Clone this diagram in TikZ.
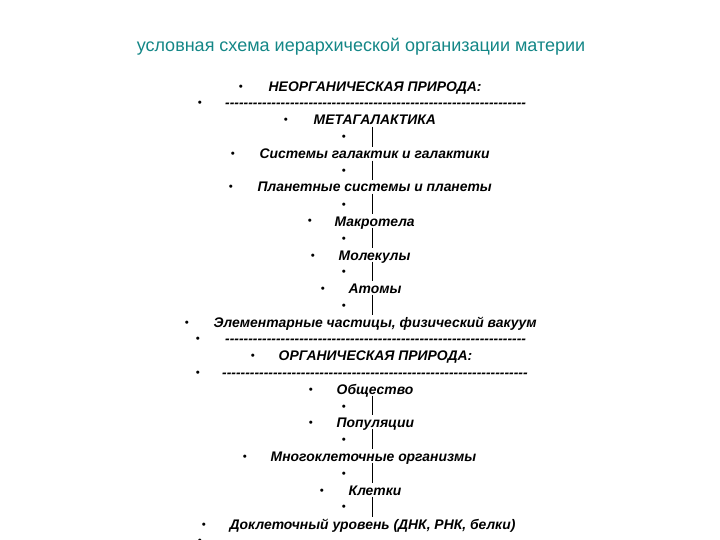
\documentclass[tikz,border=0pt]{standalone}
\usepackage{fontspec}
\setmainfont{Liberation Sans}
\newfontfamily\itemfont{Liberation Sans}
\definecolor{titleteal}{RGB}{20,135,135}
\newcommand\dashrow[1]{\foreach \i in {1,...,#1}{-\kern0pt}}
\begin{document}
\begin{tikzpicture}[x=1pt,y=-1pt,
  itm/.style={anchor=base west,inner sep=1.5pt,text height=10pt,text depth=0pt,
    font=\itemfont\fontsize{13.9}{15}\selectfont\bfseries\itshape},
  bul/.style={anchor=base,inner sep=0pt,font=\itemfont\fontsize{11.5}{12}\selectfont},
  dsh/.style={anchor=base west,inner sep=0pt,
    font=\itemfont\fontsize{13.9}{15}\selectfont\bfseries\itshape},
  conn/.style={draw=black,line width=0.8pt}]
\useasboundingbox[fill=white] (0,0) rectangle (720,540);
\node[anchor=center,font=\fontsize{18}{21}\selectfont,text=titleteal,inner sep=0pt] (title) at (361,47) {условная схема иерархической организации материи};
\coordinate (vx) at (372,0);
% rows
\node[bul] (b1) at (241,91) {•};
\node[itm] (t1) at (267,92) {НЕОРГАНИЧЕСКАЯ ПРИРОДА:};
\node[bul] (b2) at (200,107) {•};
\node[dsh] (d1) at (225,108) {\dashrow{65}};
\node[bul] (b3) at (286,124) {•};
\node[itm] (t3) at (312,125) {МЕТАГАЛАКТИКА};
\node[bul] (b4) at (344,141) {•};
\node[bul] (b5) at (233,158) {•};
\node[itm] (t5) at (258,159) {Системы галактик и галактики};
\node[bul] (b6) at (344,175) {•};
\node[bul] (b7) at (231,191) {•};
\node[itm] (t7) at (256,192) {Планетные системы и планеты};
\node[bul] (b8) at (344,208) {•};
\node[bul] (b9) at (310,225) {•};
\node[itm] (t9) at (333,226) {Макротела};
\node[bul] (b10) at (344,242) {•};
\node[bul] (b11) at (313,259) {•};
\node[itm] (t11) at (337,260) {Молекулы};
\node[bul] (b12) at (344,275) {•};
\node[bul] (b13) at (323,292) {•};
\node[itm] (t13) at (347,293) {Атомы};
\node[bul] (b14) at (344,309) {•};
\node[bul] (b15) at (187,326) {•};
\node[itm] (t15) at (212,327) {Элементарные частицы, физический вакуум};
\node[bul] (b16) at (198,342) {•};
\node[dsh] (d2) at (225,343) {\dashrow{65}};
\node[bul] (b17) at (253,359) {•};
\node[itm] (t17) at (277,360) {ОРГАНИЧЕСКАЯ ПРИРОДА:};
\node[bul] (b18) at (198,376) {•};
\node[dsh] (d3) at (222,377) {\dashrow{66}};
\node[bul] (b19) at (311,393) {•};
\node[itm] (t19) at (335,394) {Общество};
\node[bul] (b20) at (344,410) {•};
\node[bul] (b21) at (311,426) {•};
\node[itm] (t21) at (335,427) {Популяции};
\node[bul] (b22) at (344,443) {•};
\node[bul] (b23) at (245,460) {•};
\node[itm] (t23) at (269,461) {Многоклеточные организмы};
\node[bul] (b24) at (344,477) {•};
\node[bul] (b25) at (322,494) {•};
\node[itm] (t25) at (347,495) {Клетки};
\node[bul] (b26) at (344,510) {•};
\node[bul] (b27) at (204,528) {•};
\node[itm] (t27) at (228,529) {Доклеточный уровень (ДНК, РНК, белки)};
\node[bul] (b28) at (200,544) {•};
% connectors
\draw[conn] (t3.south -| vx) -- (t5.north -| vx);
\draw[conn] (t5.south -| vx) -- (t7.north -| vx);
\draw[conn] (t7.south -| vx) -- (t9.north -| vx);
\draw[conn] (t9.south -| vx) -- (t11.north -| vx);
\draw[conn] (t11.south -| vx) -- (t13.north -| vx);
\draw[conn] (t13.south -| vx) -- (t15.north -| vx);
\draw[conn] (t19.south -| vx) -- (t21.north -| vx);
\draw[conn] (t21.south -| vx) -- (t23.north -| vx);
\draw[conn] (t23.south -| vx) -- (t25.north -| vx);
\draw[conn] (t25.south -| vx) -- (t27.north -| vx);
\end{tikzpicture}
\end{document}
